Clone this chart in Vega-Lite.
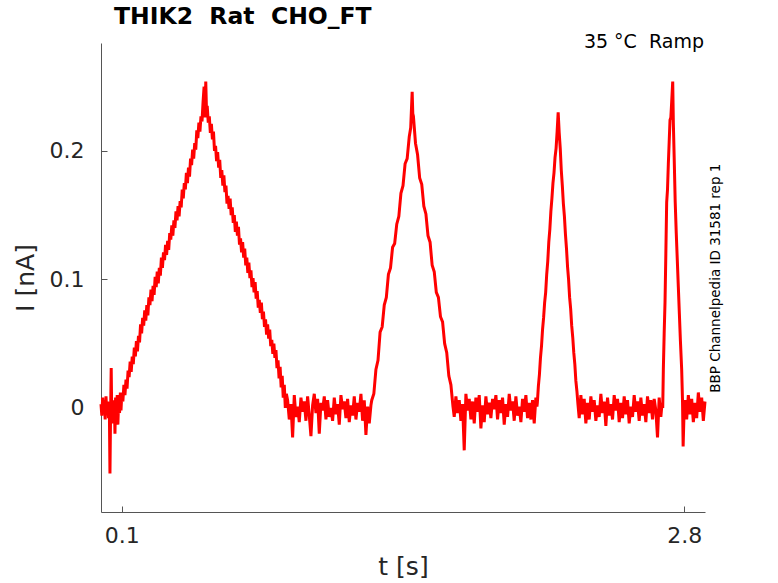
{
"$schema":"https://vega.github.io/schema/vega-lite/v6.json",
"width":604,"height":469,
"autosize":{"type":"none"},
"padding":{"left":101,"top":43,"right":73,"bottom":71},
"background":"white",
"config":{"view":{"stroke":null},"font":"DejaVu Sans"},
"title":{"text":"THIK2\u00a0 Rat\u00a0 CHO_FT","anchor":"start","frame":"group","dx":13,"fontSize":23.5,"fontWeight":"bold","font":"DejaVu Sans","color":"#000000","offset":-14,"baseline":"alphabetic"},
"layer":[
{"data":{"values":[
{"t":0.000,"i":0.003},{"t":0.004,"i":-0.006},{"t":0.008,"i":0.008},{"t":0.012,"i":-0.004},{"t":0.016,"i":0.006},{"t":0.020,"i":-0.009},{"t":0.024,"i":0.009},{"t":0.028,"i":-0.005},{"t":0.032,"i":0.005},{"t":0.036,"i":-0.008},{"t":0.040,"i":0.002},{"t":0.043,"i":-0.051},{"t":0.046,"i":-0.004},{"t":0.049,"i":0.031},{"t":0.052,"i":-0.012},{"t":0.056,"i":0.004},{"t":0.060,"i":-0.010},{"t":0.064,"i":0.006},{"t":0.067,"i":-0.020},{"t":0.070,"i":0.008},{"t":0.074,"i":-0.006},{"t":0.078,"i":0.010},{"t":0.081,"i":-0.013},{"t":0.085,"i":0.007},{"t":0.089,"i":-0.004},{"t":0.093,"i":0.012},{"t":0.096,"i":-0.002},
{"t":0.100,"i":0.011},{"t":0.105,"i":0.005},{"t":0.110,"i":0.018},{"t":0.115,"i":0.010},{"t":0.120,"i":0.022},{"t":0.125,"i":0.015},{"t":0.130,"i":0.029},{"t":0.135,"i":0.024},{"t":0.140,"i":0.036},{"t":0.145,"i":0.028},{"t":0.150,"i":0.040},{"t":0.155,"i":0.034},{"t":0.160,"i":0.047},{"t":0.165,"i":0.040},{"t":0.170,"i":0.052},{"t":0.175,"i":0.044},{"t":0.180,"i":0.056},{"t":0.185,"i":0.051},{"t":0.190,"i":0.065},{"t":0.195,"i":0.058},{"t":0.200,"i":0.070},{"t":0.205,"i":0.064},{"t":0.210,"i":0.076},{"t":0.215,"i":0.068},{"t":0.220,"i":0.080},{"t":0.225,"i":0.072},{"t":0.230,"i":0.086},{"t":0.235,"i":0.080},{"t":0.240,"i":0.092},{"t":0.245,"i":0.083},{"t":0.250,"i":0.095},{"t":0.255,"i":0.088},{"t":0.260,"i":0.102},{"t":0.265,"i":0.094},{"t":0.270,"i":0.106},{"t":0.275,"i":0.097},{"t":0.280,"i":0.109},{"t":0.285,"i":0.103},{"t":0.290,"i":0.117},{"t":0.295,"i":0.109},{"t":0.300,"i":0.121},{"t":0.305,"i":0.115},{"t":0.310,"i":0.127},{"t":0.315,"i":0.119},{"t":0.320,"i":0.130},{"t":0.325,"i":0.123},{"t":0.330,"i":0.136},{"t":0.335,"i":0.131},{"t":0.340,"i":0.142},{"t":0.345,"i":0.134},{"t":0.350,"i":0.146},{"t":0.355,"i":0.140},{"t":0.360,"i":0.153},{"t":0.365,"i":0.146},{"t":0.370,"i":0.157},{"t":0.375,"i":0.149},{"t":0.380,"i":0.161},{"t":0.385,"i":0.156},{"t":0.390,"i":0.170},{"t":0.395,"i":0.163},{"t":0.400,"i":0.175},{"t":0.405,"i":0.170},{"t":0.410,"i":0.183},{"t":0.415,"i":0.175},{"t":0.420,"i":0.187},{"t":0.425,"i":0.180},{"t":0.430,"i":0.194},{"t":0.435,"i":0.189},{"t":0.440,"i":0.201},{"t":0.445,"i":0.194},{"t":0.450,"i":0.206},{"t":0.455,"i":0.201},{"t":0.460,"i":0.216},{"t":0.465,"i":0.210},{"t":0.470,"i":0.222},{"t":0.475,"i":0.215},{"t":0.480,"i":0.227},{"t":0.485,"i":0.223},{"t":0.490,"i":0.238},{"t":0.495,"i":0.250},{"t":0.500,"i":0.226},{"t":0.503,"i":0.254},{"t":0.507,"i":0.228},
{"t":0.510,"i":0.235},{"t":0.515,"i":0.222},{"t":0.520,"i":0.227},{"t":0.525,"i":0.214},{"t":0.530,"i":0.221},{"t":0.535,"i":0.209},{"t":0.540,"i":0.215},{"t":0.545,"i":0.200},{"t":0.550,"i":0.204},{"t":0.555,"i":0.192},{"t":0.560,"i":0.199},{"t":0.565,"i":0.187},{"t":0.570,"i":0.193},{"t":0.575,"i":0.179},{"t":0.580,"i":0.185},{"t":0.585,"i":0.173},{"t":0.590,"i":0.181},{"t":0.595,"i":0.168},{"t":0.600,"i":0.173},{"t":0.605,"i":0.159},{"t":0.610,"i":0.165},{"t":0.615,"i":0.155},{"t":0.620,"i":0.163},{"t":0.625,"i":0.150},{"t":0.630,"i":0.156},{"t":0.635,"i":0.144},{"t":0.640,"i":0.150},{"t":0.645,"i":0.137},{"t":0.650,"i":0.145},{"t":0.655,"i":0.134},{"t":0.660,"i":0.141},{"t":0.665,"i":0.127},{"t":0.670,"i":0.132},{"t":0.675,"i":0.121},{"t":0.680,"i":0.129},{"t":0.685,"i":0.117},{"t":0.690,"i":0.124},{"t":0.695,"i":0.111},{"t":0.700,"i":0.117},{"t":0.705,"i":0.105},{"t":0.710,"i":0.113},{"t":0.715,"i":0.101},{"t":0.720,"i":0.107},{"t":0.725,"i":0.094},{"t":0.730,"i":0.101},{"t":0.735,"i":0.090},{"t":0.740,"i":0.098},{"t":0.745,"i":0.085},{"t":0.750,"i":0.091},{"t":0.755,"i":0.078},{"t":0.760,"i":0.084},{"t":0.765,"i":0.074},{"t":0.770,"i":0.082},{"t":0.775,"i":0.069},{"t":0.780,"i":0.075},{"t":0.785,"i":0.063},{"t":0.790,"i":0.069},{"t":0.795,"i":0.057},{"t":0.800,"i":0.065},{"t":0.805,"i":0.054},{"t":0.810,"i":0.061},{"t":0.815,"i":0.048},{"t":0.820,"i":0.053},{"t":0.825,"i":0.042},{"t":0.830,"i":0.050},{"t":0.835,"i":0.039},{"t":0.840,"i":0.045},{"t":0.845,"i":0.031},{"t":0.850,"i":0.037},{"t":0.855,"i":0.023},{"t":0.860,"i":0.032},{"t":0.865,"i":0.016},{"t":0.870,"i":0.025},{"t":0.875,"i":0.008},{"t":0.880,"i":0.018},{"t":0.885,"i":0.000},{"t":0.890,"i":0.011},
{"t":0.896,"i":0.006},{"t":0.904,"i":-0.009},{"t":0.912,"i":0.003},{"t":0.920,"i":-0.023},{"t":0.928,"i":0.010},{"t":0.936,"i":-0.007},{"t":0.944,"i":0.001},{"t":0.952,"i":-0.011},{"t":0.960,"i":0.008},{"t":0.968,"i":-0.003},{"t":0.976,"i":0.005},{"t":0.984,"i":-0.010},{"t":0.992,"i":0.009},{"t":1.000,"i":-0.006},{"t":1.008,"i":-0.022},{"t":1.016,"i":0.002},{"t":1.024,"i":0.011},{"t":1.032,"i":-0.004},{"t":1.040,"i":0.007},{"t":1.048,"i":-0.020},{"t":1.056,"i":0.004},{"t":1.064,"i":-0.002},{"t":1.072,"i":0.009},{"t":1.080,"i":-0.009},{"t":1.088,"i":0.006},{"t":1.096,"i":-0.007},{"t":1.104,"i":0.000},{"t":1.112,"i":-0.010},{"t":1.120,"i":0.008},{"t":1.128,"i":-0.005},{"t":1.136,"i":0.003},{"t":1.144,"i":-0.013},{"t":1.152,"i":0.010},{"t":1.160,"i":-0.001},{"t":1.168,"i":0.005},{"t":1.176,"i":-0.008},{"t":1.184,"i":0.007},{"t":1.192,"i":-0.011},{"t":1.200,"i":0.002},{"t":1.208,"i":-0.006},{"t":1.216,"i":0.009},{"t":1.224,"i":-0.009},{"t":1.232,"i":0.004},{"t":1.240,"i":-0.003},{"t":1.248,"i":0.011},{"t":1.256,"i":-0.010},{"t":1.264,"i":0.006},{"t":1.272,"i":-0.021},{"t":1.280,"i":0.001},{"t":1.288,"i":-0.012},
{"t":1.296,"i":0.002},{"t":1.30,"i":0.006},{"t":1.31,"i":0.011},{"t":1.32,"i":0.030},{"t":1.33,"i":0.037},{"t":1.34,"i":0.059},{"t":1.35,"i":0.063},{"t":1.36,"i":0.080},{"t":1.37,"i":0.086},{"t":1.38,"i":0.104},{"t":1.39,"i":0.109},{"t":1.40,"i":0.125},{"t":1.41,"i":0.128},{"t":1.42,"i":0.143},{"t":1.43,"i":0.149},{"t":1.44,"i":0.167},{"t":1.45,"i":0.173},{"t":1.46,"i":0.190},{"t":1.47,"i":0.194},{"t":1.48,"i":0.211},{"t":1.487,"i":0.218},{"t":1.494,"i":0.246},{"t":1.497,"i":0.229},
{"t":1.50,"i":0.227},{"t":1.51,"i":0.206},{"t":1.52,"i":0.197},{"t":1.53,"i":0.179},{"t":1.54,"i":0.174},{"t":1.55,"i":0.157},{"t":1.56,"i":0.151},{"t":1.57,"i":0.134},{"t":1.58,"i":0.129},{"t":1.59,"i":0.111},{"t":1.60,"i":0.106},{"t":1.61,"i":0.090},{"t":1.62,"i":0.086},{"t":1.63,"i":0.071},{"t":1.64,"i":0.067},{"t":1.65,"i":0.050},{"t":1.66,"i":0.043},{"t":1.67,"i":0.025},{"t":1.68,"i":0.018},{"t":1.69,"i":0.001},
{"t":1.696,"i":-0.007},{"t":1.704,"i":0.009},{"t":1.712,"i":-0.004},{"t":1.720,"i":0.006},{"t":1.728,"i":-0.010},{"t":1.736,"i":0.003},{"t":1.744,"i":-0.033},{"t":1.752,"i":0.011},{"t":1.760,"i":-0.002},{"t":1.768,"i":0.007},{"t":1.776,"i":-0.009},{"t":1.784,"i":0.005},{"t":1.792,"i":-0.012},{"t":1.800,"i":0.008},{"t":1.808,"i":-0.003},{"t":1.816,"i":0.010},{"t":1.824,"i":-0.016},{"t":1.832,"i":0.002},{"t":1.840,"i":-0.011},{"t":1.848,"i":0.009},{"t":1.856,"i":-0.005},{"t":1.864,"i":0.004},{"t":1.872,"i":-0.008},{"t":1.880,"i":0.007},{"t":1.888,"i":-0.001},{"t":1.896,"i":0.010},{"t":1.904,"i":-0.009},{"t":1.912,"i":0.006},{"t":1.920,"i":-0.004},{"t":1.928,"i":0.008},{"t":1.936,"i":-0.013},{"t":1.944,"i":0.003},{"t":1.952,"i":-0.007},{"t":1.960,"i":0.011},{"t":1.968,"i":-0.002},{"t":1.976,"i":0.005},{"t":1.984,"i":-0.010},{"t":1.992,"i":0.009},{"t":2.000,"i":-0.006},{"t":2.008,"i":0.001},{"t":2.016,"i":-0.011},{"t":2.024,"i":0.007},{"t":2.032,"i":-0.003},{"t":2.040,"i":0.010},{"t":2.048,"i":-0.008},{"t":2.056,"i":0.004},{"t":2.064,"i":-0.009},{"t":2.072,"i":0.006},{"t":2.080,"i":-0.012},{"t":2.088,"i":0.008},
{"t":2.093,"i":0.001},{"t":2.095,"i":0.004},{"t":2.100,"i":0.017},{"t":2.105,"i":0.026},{"t":2.110,"i":0.039},{"t":2.115,"i":0.048},{"t":2.120,"i":0.061},{"t":2.125,"i":0.070},{"t":2.130,"i":0.082},{"t":2.135,"i":0.090},{"t":2.140,"i":0.104},{"t":2.145,"i":0.114},{"t":2.150,"i":0.129},{"t":2.155,"i":0.139},{"t":2.160,"i":0.153},{"t":2.165,"i":0.163},{"t":2.170,"i":0.175},{"t":2.175,"i":0.183},{"t":2.180,"i":0.195},{"t":2.185,"i":0.202},{"t":2.190,"i":0.215},{"t":2.195,"i":0.230},{"t":2.200,"i":0.214},{"t":2.205,"i":0.202},{"t":2.210,"i":0.185},{"t":2.215,"i":0.173},{"t":2.220,"i":0.159},{"t":2.225,"i":0.149},{"t":2.230,"i":0.135},{"t":2.235,"i":0.124},{"t":2.240,"i":0.110},{"t":2.245,"i":0.100},{"t":2.250,"i":0.086},{"t":2.255,"i":0.077},{"t":2.260,"i":0.064},{"t":2.265,"i":0.055},{"t":2.270,"i":0.043},{"t":2.275,"i":0.034},{"t":2.280,"i":0.021},{"t":2.285,"i":0.013},{"t":2.290,"i":0.003},
{"t":2.296,"i":-0.008},{"t":2.304,"i":0.010},{"t":2.312,"i":-0.005},{"t":2.320,"i":0.007},{"t":2.328,"i":-0.012},{"t":2.336,"i":0.004},{"t":2.344,"i":-0.009},{"t":2.352,"i":0.009},{"t":2.360,"i":-0.003},{"t":2.368,"i":0.006},{"t":2.376,"i":-0.010},{"t":2.384,"i":0.002},{"t":2.392,"i":-0.007},{"t":2.400,"i":0.011},{"t":2.408,"i":-0.004},{"t":2.416,"i":0.005},{"t":2.424,"i":-0.014},{"t":2.432,"i":0.008},{"t":2.440,"i":-0.006},{"t":2.448,"i":0.003},{"t":2.456,"i":-0.009},{"t":2.464,"i":0.010},{"t":2.472,"i":-0.002},{"t":2.480,"i":0.007},{"t":2.488,"i":-0.011},{"t":2.496,"i":0.004},{"t":2.504,"i":-0.008},{"t":2.512,"i":0.009},{"t":2.520,"i":-0.005},{"t":2.528,"i":0.006},{"t":2.536,"i":-0.012},{"t":2.544,"i":0.001},{"t":2.552,"i":-0.007},{"t":2.560,"i":0.010},{"t":2.568,"i":-0.003},{"t":2.576,"i":0.005},{"t":2.584,"i":-0.010},{"t":2.592,"i":0.008},{"t":2.600,"i":-0.006},{"t":2.608,"i":0.003},{"t":2.616,"i":-0.011},{"t":2.624,"i":0.009},{"t":2.632,"i":-0.004},{"t":2.640,"i":0.006},{"t":2.648,"i":-0.009},{"t":2.656,"i":0.007},{"t":2.664,"i":-0.002},{"t":2.672,"i":-0.023},{"t":2.680,"i":0.008},{"t":2.688,"i":-0.007},{"t":2.694,"i":0.004},
{"t":2.697,"i":0.000},{"t":2.700,"i":0.030},{"t":2.704,"i":0.058},{"t":2.708,"i":0.082},{"t":2.712,"i":0.120},{"t":2.716,"i":0.160},{"t":2.720,"i":0.170},{"t":2.724,"i":0.190},{"t":2.728,"i":0.207},{"t":2.732,"i":0.224},{"t":2.736,"i":0.226},{"t":2.740,"i":0.238},{"t":2.745,"i":0.254},{"t":2.748,"i":0.222},{"t":2.752,"i":0.195},{"t":2.757,"i":0.160},{"t":2.762,"i":0.136},{"t":2.767,"i":0.115},{"t":2.772,"i":0.094},{"t":2.777,"i":0.073},{"t":2.782,"i":0.052},{"t":2.788,"i":0.030},{"t":2.792,"i":0.006},{"t":2.795,"i":-0.030},{"t":2.799,"i":-0.006},
{"t":2.804,"i":0.006},{"t":2.812,"i":-0.009},{"t":2.820,"i":0.010},{"t":2.828,"i":-0.005},{"t":2.836,"i":0.007},{"t":2.844,"i":-0.011},{"t":2.852,"i":0.004},{"t":2.860,"i":-0.008},{"t":2.868,"i":0.012},{"t":2.876,"i":-0.003},{"t":2.884,"i":0.008},{"t":2.892,"i":-0.010},{"t":2.900,"i":0.005}
]},
"mark":{"type":"line","color":"#ff0000","strokeWidth":3,"strokeJoin":"miter"},
"encoding":{
"x":{"field":"t","type":"quantitative","scale":{"domain":[0,2.9],"nice":false,"zero":false},
"axis":{"values":[0.1,2.8],"format":"~g","grid":false,"title":"t [s]","titleFontSize":25,"titleFontWeight":"normal","titleColor":"#262626","titlePadding":8,"labelFontSize":22,"labelColor":"#262626","labelPadding":19,"tickSize":-6,"tickColor":"#555555","domainColor":"#555555","labelFlush":false}},
"y":{"field":"i","type":"quantitative","scale":{"domain":[-0.081,0.284],"nice":false,"zero":false},
"axis":{"values":[0,0.1,0.2],"format":"~g","grid":false,"title":"I [nA]","titleFontSize":25,"titleFontWeight":"normal","titleColor":"#262626","titlePadding":11,"labelFontSize":22,"labelColor":"#262626","labelPadding":23,"tickSize":-6,"tickColor":"#555555","domainColor":"#555555"}}
}},
{"data":{"values":[{"label":"35 °C\u00a0 Ramp"}]},
"mark":{"type":"text","align":"right","baseline":"alphabetic","fontSize":19,"font":"DejaVu Sans","color":"#000000"},
"encoding":{"x":{"datum":2.895,"type":"quantitative"},"y":{"datum":0.280,"type":"quantitative"},"text":{"field":"label"}}},
{"data":{"values":[{"label":"BBP Channelpedia ID 31581 rep 1"}]},
"mark":{"type":"text","align":"center","baseline":"middle","angle":270,"fontSize":13.5,"font":"DejaVu Sans","color":"#000000"},
"encoding":{"x":{"datum":2.955,"type":"quantitative"},"y":{"datum":0.101,"type":"quantitative"},"text":{"field":"label"}}}
]
}
